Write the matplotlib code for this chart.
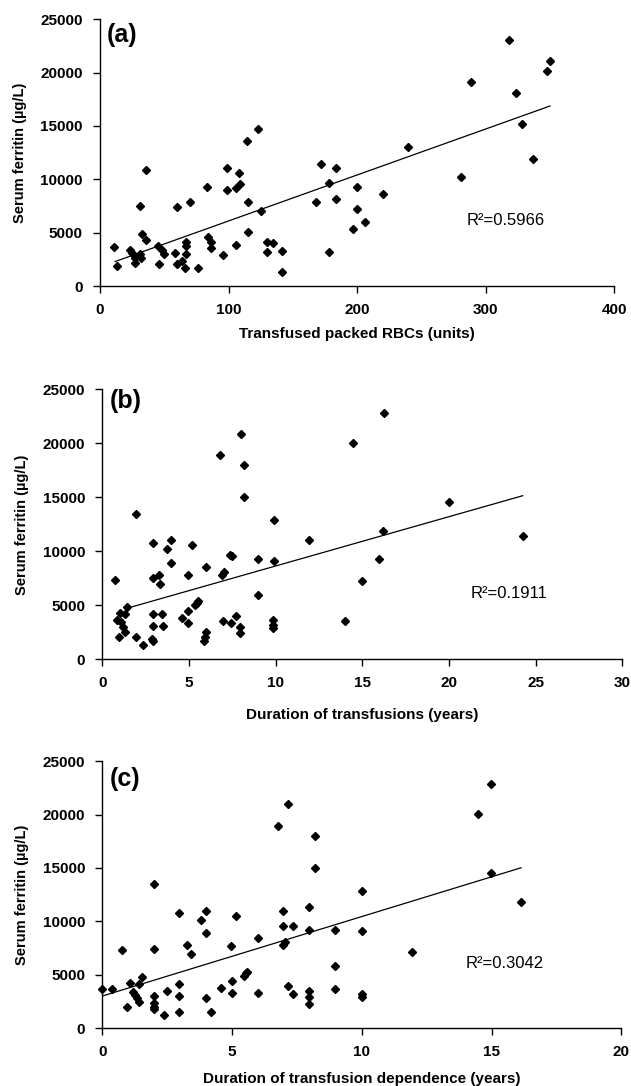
import matplotlib
matplotlib.use("Agg")
import matplotlib.pyplot as plt

plt.rcParams['font.family'] = ['Liberation Sans', 'DejaVu Sans']

# (a) transfused packed RBCs (units) vs serum ferritin
rbc_units = [11, 13, 23, 25, 27, 27, 31, 31, 32, 33, 36, 36, 45, 46, 48, 50, 58, 60, 60, 64,
             66, 67, 67, 67, 70, 76, 83, 84, 86, 86, 96, 99, 99, 106, 106, 108, 109, 114, 115, 115,
             123, 125, 130, 130, 135, 142, 142, 168, 172, 178, 178, 184, 184, 197, 200, 200, 206, 220, 240, 281,
             289, 318, 324, 328, 337, 348, 350]
ferritin_a = [3700, 1900, 3450, 3150, 2650, 2150, 3050, 7500, 2650, 4900, 4300, 10850, 3750, 2100, 3400, 3000, 3150, 7400, 2100, 2350,
              1700, 4200, 3750, 3000, 7900, 1700, 9300, 4600, 4200, 3600, 2950, 9000, 11100, 3850, 9200, 10600, 9600, 13600, 7900, 5050,
              14700, 7100, 3250, 4200, 4100, 3350, 1400, 7900, 11450, 9700, 3250, 8200, 11100, 5350, 7250, 9300, 6000, 8600, 13000, 10250,
              19100, 23000, 18100, 15150, 11950, 20150, 21100]
trend_a_x = [11.7, 350.2]
trend_a_y = [2330, 16870]

# (b) duration of transfusions (years)
trans_years = [1.94, 2.94, 3.75, 3.98, 5.18, 7.39, 7.5, 8.98, 9.93, 9.93, 11.95, 15.95, 16.18, 19.99, 24.26, 8.18,
               6.79, 8.02, 8.18, 14.48, 16.25,
               0.73, 2.94, 3.27, 3.33, 3.96, 4.96, 5.98, 6.89, 7.04, 9.0, 14.99, 1.41, 1.02, 1.31, 2.94,
               3.46, 4.96, 5.45, 5.55, 5.37,
               0.83, 1.06, 1.21, 1.31, 0.96, 1.94, 2.37, 2.94, 3.48, 2.88, 2.94, 4.58, 4.96, 5.98, 5.93,
               5.84, 6.95, 7.41, 7.72, 7.95, 7.95, 9.87, 9.87, 9.87, 14.0]
ferritin_b = [13500, 10800, 10200, 11050, 10600, 9650, 9600, 9300, 9100, 12900, 11050, 9300, 11900, 14600, 11400, 15050,
              18900, 20900, 17950, 20000, 22850,
              7350, 7500, 7800, 7000, 8900, 7800, 8550, 7800, 8100, 5950, 7250, 4870, 4320, 4190, 4190,
              4190, 4500, 5200, 5430, 5030,
              3640, 3480, 3020, 2560, 2040, 2040, 1320, 3110, 3110, 1900, 1720, 3800, 3330, 2560, 2090,
              1690, 3570, 3330, 4040, 3020, 2460, 3640, 3180, 2870, 3570]
trend_b_x = [1.41, 24.26]
trend_b_y = [4720, 15150]

# (c) duration of transfusion dependence (years)
dep_years = [0, 0.39, 0.77, 0.96, 1.07, 1.19, 1.27, 1.34, 1.41, 1.41, 1.52, 2.0, 2.0, 2.0, 2.0, 2.0, 2.0, 2.39, 2.48, 2.96,
             2.96, 2.96, 2.96, 3.25, 3.41, 3.8, 3.98, 4.0, 4.0, 4.19, 4.57, 4.96, 4.99, 4.99, 5.15, 5.46, 5.53, 5.59, 6.01, 6.01,
             6.95, 6.95, 6.95, 7.04, 7.36, 7.17, 7.36, 7.98, 7.98, 8.2, 7.98, 7.98, 7.98, 8.97, 8.97, 8.97, 10.0, 10.0, 10.0, 10.0,
             11.92, 14.98, 16.14, 6.78, 7.17, 8.2, 14.47, 14.98]
ferritin_c = [3650, 3650, 7320, 1960, 4210, 3420, 3110, 2810, 2430, 4110, 4830, 13500, 7420, 3050, 2400, 1960, 1780, 1240, 3520, 10750,
              4110, 3020, 1550, 7790, 6950, 10130, 10970, 8890, 2810, 1550, 3740, 7730, 4450, 3270, 10530, 4890, 5140, 5290, 8480, 3270,
              10970, 9570, 7790, 8100, 9570, 3960, 3180, 11320, 9190, 15020, 3520, 2960, 2270, 9190, 5860, 3650, 12870, 9070, 3180, 2960,
              7170, 14550, 11790, 18920, 20950, 17990, 20020, 22850]
trend_c_x = [0, 16.14]
trend_c_y = [3020, 15020]

panels = [
    ("(a)", rbc_units, ferritin_a, trend_a_x, trend_a_y, "R\u00b2=0.5966", (285, 6200),
     "Transfused packed RBCs (units)", 400, 100, [0.1585, 0.7362, 0.8146, 0.2463], 0.939, 6.8),
    ("(b)", trans_years, ferritin_b, trend_b_x, trend_b_y, "R\u00b2=0.1911", (21.26, 6100),
     "Duration of transfusions (years)", 30, 5, [0.1621, 0.3929, 0.8240, 0.2486], 0.955, 13),
    ("(c)", dep_years, ferritin_c, trend_c_x, trend_c_y, "R\u00b2=0.3042", (14.02, 6080),
     "Duration of transfusion dependence (years)", 20, 5, [0.1621, 0.0531, 0.8225, 0.2461], 0.9345, 9.3),
]

fig = plt.figure(figsize=(6.31, 10.86), dpi=100)

for label, xs, ys, tx, ty, r2, r2pos, xlab, xmax, xstep, rect, ly, xpad in panels:
    ax = fig.add_axes(rect)
    ax.plot(xs, ys, linestyle="none", marker="D", ms=4.4, color="black", clip_on=False)
    ax.plot(tx, ty, color="black", lw=0.9)
    ax.set_xlim(0, xmax)
    ax.set_ylim(0, 25000)
    ax.set_xticks(range(0, xmax + 1, xstep))
    ax.set_yticks(range(0, 25001, 5000))
    for s in ["top", "right"]:
        ax.spines[s].set_visible(False)
    for s in ["left", "bottom"]:
        ax.spines[s].set_linewidth(1.0)
    ax.tick_params(direction="out", length=5, width=1.0, labelsize=11)
    ax.tick_params(axis="x", pad=7)
    ax.tick_params(axis="y", pad=7.3)
    for t in ax.get_xticklabels() + ax.get_yticklabels():
        t.set_fontweight("bold")
    ax.set_ylabel("Serum ferritin (\u00b5g/L)", fontsize=10.5, fontweight="bold", labelpad=10)
    ax.set_xlabel(xlab, fontsize=11, fontweight="bold", labelpad=xpad)
    ax.text(0.014, ly, label, transform=ax.transAxes, fontsize=18, fontweight="bold",
            ha="left", va="center")
    ax.text(r2pos[0], r2pos[1], r2, fontsize=12, ha="left", va="center")

fig.savefig("out.png", dpi=100)
